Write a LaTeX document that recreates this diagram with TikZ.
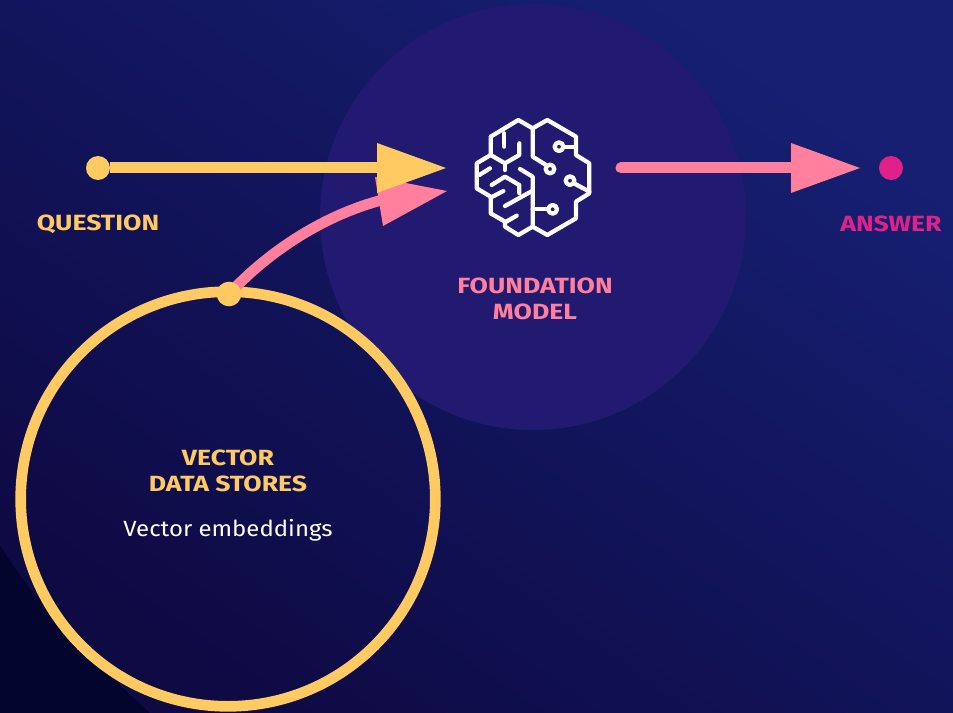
\documentclass[tikz,border=0pt]{standalone}
\usepackage{fontspec}
\setmainfont[FakeStretch=1.21]{Fira Sans}
\newfontfamily\plainfont[FakeStretch=1.09]{Fira Sans}
\usetikzlibrary{arrows.meta}
\definecolor{gold}{HTML}{FFCA62}
\definecolor{rosa}{HTML}{FF7F9C}
\definecolor{magen}{HTML}{E0218A}
\definecolor{bgA}{HTML}{0E0A44}
\definecolor{bgB}{HTML}{161F72}
\definecolor{darkc}{HTML}{04052E}
\definecolor{modelc}{HTML}{221A70}
\tikzset{
  x=0.75pt,y=-0.75pt,
  lab/.style={font=\bfseries\fontsize{16.5}{19}\selectfont,align=center,inner sep=0pt},
  brainl/.style={draw=white,line width=3.2pt,line join=round,line cap=round},
}
\begin{document}
\begin{tikzpicture}
\useasboundingbox (0,0) rectangle (953,713);
\fill[darkc] (0,0) rectangle (953,713);
\clip (0,0) rectangle (953,713);
\shade[left color=bgA,right color=bgB,shading angle=145] (0,0) -- (953,0) -- (953,713) -- (150,713)
  .. controls (95,662) and (40,610) .. (0,545) -- cycle;
\fill[modelc] (533,217) circle [radius=213];
% stores circle
\node[circle,draw=gold,line width=8pt,minimum size=311pt,inner sep=0pt,fill=none] (store) at (228,499) {};
% pink curve
\coordinate (pinktip) at (447,191);
\coordinate (ctop) at (229,294);
\draw[rosa,line width=8pt] (ctop) .. controls (270,250) and (325,215) .. (382,200);
\fill[rosa] (375,177) -- (pinktip) -- (383,226) -- cycle;
% question
\node[circle,fill=gold,inner sep=0pt,minimum size=18pt] (qdot) at (98,168) {};
\coordinate (qhead) at (377,168);
\coordinate (qtip) at (446,168);
\draw[gold,line width=8.25pt] (qdot) -- (qhead);
\fill[gold] (377,143) -- (qtip) -- (377,193) -- cycle;
\node[circle,fill=gold,inner sep=0pt,minimum size=18.5pt] (sdot) at (229,294) {};
% answer
\node[circle,fill=magen,inner sep=0pt,minimum size=18pt] (adot) at (891,168) {};
\coordinate (astart) at (621,168);
\coordinate (ahead) at (791,168);
\draw[rosa,line width=8.25pt,line cap=round] (astart) -- (ahead);
\fill[rosa] (791,143) -- (860,168) -- (791,193) -- cycle;
% brain
\begin{scope}[shift={(460,105)},x=0.25pt,y=-0.25pt,brainl]
\draw (218,70) -- (175,45) -- (92,95) -- (92,150) -- (50,175) -- (50,250) -- (92,275) -- (92,325)
 -- (135,350) -- (135,365) -- (175,390) -- (218,365) -- (262,390) -- (348,340) -- (348,290) -- (388,265)
 -- (388,175) -- (348,150) -- (348,95) -- (262,45) -- cycle;
\draw (218,70) -- (218,155) -- (258,180);
\draw (270,192) circle [radius=13];
\draw (218,365) -- (218,215) -- (180,192);
\draw (218,257) -- (135,303);
\draw (218,313) -- (265,313);
\draw (278,313) circle [radius=13];
\draw (297,125) circle [radius=13];
\draw (310,125) -- (348,125);
\draw (330,227) circle [radius=13];
\draw (342,235) -- (388,260);
\draw (133,85) -- (133,125);
\draw (92,150) -- (135,175) -- (178,150) -- (178,115);
\draw (135,175) -- (135,195);
\draw (58,210) -- (90,190);
\draw (95,240) -- (135,215) -- (178,240) -- (178,265);
\draw (92,278) -- (130,258);
\draw (135,352) -- (170,332);
\end{scope}
% labels
\node[lab,text=gold] (q) at (98,224) {QUESTION};
\node[lab,text=magen] (a) at (891,224) {ANSWER};
\node[lab,text=rosa] (fm) at (535,299) {FOUNDATION\\MODEL};
\node[lab,text=gold] (vd) at (228,471) {VECTOR\\DATA STORES};
\node[font=\plainfont\fontsize{16.5}{19}\selectfont,text=white,inner sep=0pt] (ve) at (228,530) {Vector embeddings};
\end{tikzpicture}
\end{document}
